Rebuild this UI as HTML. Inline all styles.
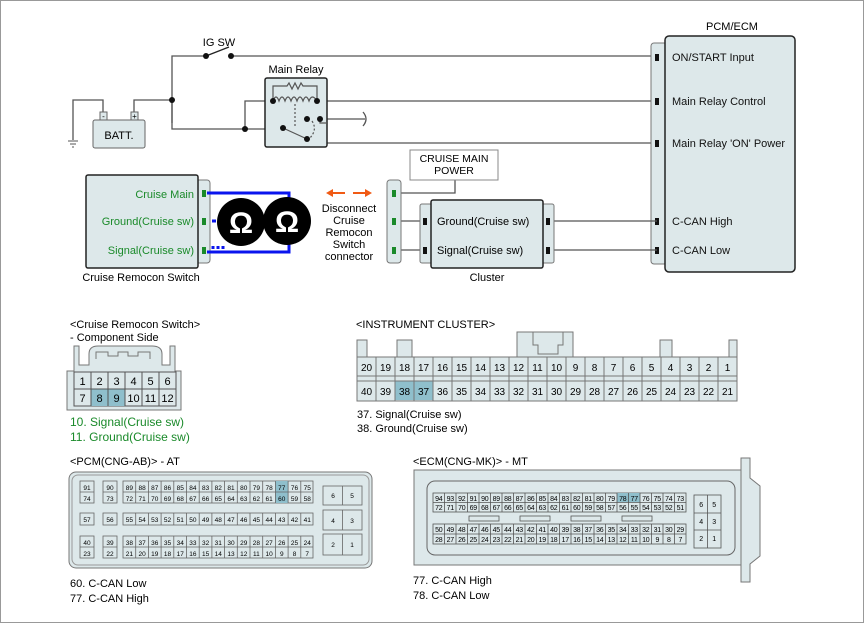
<!DOCTYPE html>
<html><head><meta charset="utf-8"><style>
html,body{margin:0;padding:0;background:#fff}
svg{display:block;font-family:"Liberation Sans",sans-serif}
</style></head><body>
<svg width="865" height="624" viewBox="0 0 865 624" xmlns="http://www.w3.org/2000/svg">
<rect x="0.5" y="0.5" width="863" height="622" fill="#fff" stroke="#999"/>
<g fill="none" stroke="#555" stroke-width="1.3">
<!-- IG SW line -->
<path d="M172 123 V56 H206 M231 56 H657"/>
<path d="M206 56 L229 47" stroke="#222"/>
<!-- battery wires -->
<path d="M73 140 V100 H103 V112"/>
<path d="M134 112 V100 H172"/>
<path d="M172 100 V129 H245"/>
<path d="M245 129 V101 H273"/>
<path d="M245 129 H283 L307 139"/>
<path d="M317 101 H657"/>
<path d="M320 119 H365"/>
<path d="M363 112 q6 7 0 14" />
<path d="M323 119 V143 H657"/>
<path d="M273 101 V86 H317 V101"/>
<path d="M295 101 V130" stroke-dasharray="2,2"/>
<path d="M312 121 q6 9 -2 18" stroke-dasharray="2,2"/>
</g>
<!-- ground symbol -->
<g stroke="#555"><line x1="68" y1="141" x2="78" y2="141"/><line x1="70" y1="144" x2="76" y2="144"/><line x1="72" y1="147" x2="74" y2="147"/></g>
<!-- battery -->
<rect x="93" y="120" width="52" height="28" rx="2" fill="#dde8ea" stroke="#666"/>
<rect x="100" y="112" width="7" height="8" fill="#dde8ea" stroke="#666"/>
<rect x="131" y="112" width="7" height="8" fill="#dde8ea" stroke="#666"/>
<text x="103.5" y="119" font-size="8" text-anchor="middle">-</text>
<text x="134.5" y="119" font-size="8" text-anchor="middle">+</text>
<text x="119" y="139" font-size="11" text-anchor="middle">BATT.</text>
<text x="219" y="46" font-size="11" text-anchor="middle">IG SW</text>
<circle cx="206" cy="56" r="3" fill="#111"/><circle cx="231" cy="56" r="3" fill="#111"/>
<circle cx="172" cy="100" r="3" fill="#111"/><circle cx="245" cy="129" r="3" fill="#111"/>
<!-- relay -->
<text x="296" y="73" font-size="11" text-anchor="middle">Main Relay</text>
<rect x="265" y="78" width="62" height="69" rx="2" fill="#dde8ea" stroke="#222" stroke-width="1.5"/>
<g fill="none" stroke="#555" stroke-width="1.2">
<path d="M273 101 V86 H287 l2 -3 l3 6 l3 -6 l3 6 l3 -6 l2 3 H317 V101"/>
<path d="M273 101 q3 -8 6 0 q3 -8 6 0 q3 -8 6 0 q3 -8 6 0 q3 -8 6 0 q3 -8 6 0 q3 -8 8 0"/>
<path d="M283 128 L307 139"/>
<path d="M320 119 V123 H327"/>
<path d="M295 104 V128" stroke-dasharray="2,2"/>
<path d="M312 121 q6 9 -3 18" stroke-dasharray="2,2"/>
</g>
<g fill="#111"><circle cx="273" cy="101" r="3"/><circle cx="317" cy="101" r="3"/><circle cx="283" cy="128" r="3"/><circle cx="307" cy="139" r="3"/><circle cx="307" cy="119" r="3"/><circle cx="320" cy="119" r="3"/></g>
<!-- PCM/ECM -->
<text x="732" y="30" font-size="11" text-anchor="middle">PCM/ECM</text>
<rect x="651" y="43" width="16" height="221" rx="3" fill="#dde8ea" stroke="#777"/>
<rect x="665" y="36" width="130" height="236" rx="4" fill="#dde8ea" stroke="#222" stroke-width="1.5"/>
<g fill="#111"><rect x="655" y="54" width="4" height="7"/><rect x="655" y="98" width="4" height="7"/><rect x="655" y="140" width="4" height="7"/><rect x="655" y="218" width="4" height="7"/><rect x="655" y="247" width="4" height="7"/></g>
<g font-size="11" fill="#111"><text x="672" y="61">ON/START Input</text><text x="672" y="105">Main Relay Control</text><text x="672" y="147">Main Relay 'ON' Power</text><text x="672" y="225">C-CAN High</text><text x="672" y="254">C-CAN Low</text></g>
<!-- cluster -->
<g stroke="#555" stroke-width="1.3" fill="none"><path d="M394 221 H425 M394 250 H425 M554 221 H657 M554 250 H657 M394 193 H455 V180"/></g>
<rect x="410" y="150" width="88" height="30" fill="#fff" stroke="#888"/>
<text x="454" y="162" font-size="10.5" text-anchor="middle">CRUISE MAIN</text>
<text x="454" y="174" font-size="10.5" text-anchor="middle">POWER</text>
<rect x="387" y="180" width="14" height="83" rx="3" fill="#dde8ea" stroke="#777"/>
<rect x="420" y="204" width="13" height="59" rx="2" fill="#dde8ea" stroke="#777"/>
<rect x="541" y="204" width="13" height="59" rx="2" fill="#dde8ea" stroke="#777"/>
<rect x="431" y="200" width="112" height="68" rx="2" fill="#dde8ea" stroke="#222" stroke-width="1.5"/>
<g fill="#1a8a2a"><rect x="392" y="190" width="4" height="7"/><rect x="392" y="218" width="4" height="7"/><rect x="392" y="247" width="4" height="7"/></g>
<g fill="#111"><rect x="423" y="218" width="4" height="7"/><rect x="423" y="247" width="4" height="7"/><rect x="546" y="218" width="4" height="7"/><rect x="546" y="247" width="4" height="7"/></g>
<text x="437" y="225" font-size="11">Ground(Cruise sw)</text>
<text x="437" y="254" font-size="11">Signal(Cruise sw)</text>
<text x="487" y="281" font-size="11" text-anchor="middle">Cluster</text>
<!-- arrows / disconnect text -->
<g fill="#f05a14" stroke="#f05a14" stroke-width="2"><line x1="332" y1="193" x2="345" y2="193"/><line x1="353" y1="193" x2="366" y2="193"/><path d="M326 193 l7 -4 v8z" stroke="none"/><path d="M372 193 l-7 -4 v8z" stroke="none"/></g>
<g font-size="11" text-anchor="middle"><text x="349" y="212">Disconnect</text><text x="349" y="224">Cruise</text><text x="349" y="236">Remocon</text><text x="349" y="248">Switch</text><text x="349" y="260">connector</text></g>
<!-- cruise remocon switch -->
<rect x="196" y="180" width="14" height="83" rx="3" fill="#dde8ea" stroke="#777"/>
<rect x="86" y="175" width="112" height="93" rx="2" fill="#dde8ea" stroke="#222" stroke-width="1.5"/>
<g fill="#1a8a2a"><rect x="202" y="190" width="4" height="7"/><rect x="202" y="218" width="4" height="7"/><rect x="202" y="247" width="4" height="7"/></g>
<g font-size="11" fill="#1a8a2a" text-anchor="end"><text x="194" y="198">Cruise Main</text><text x="194" y="225">Ground(Cruise sw)</text><text x="194" y="254">Signal(Cruise sw)</text></g>
<text x="141" y="281" font-size="11" text-anchor="middle">Cruise Remocon Switch</text>
<g stroke="#0a14ee" stroke-width="3" fill="none"><path d="M207 193 H289 V252 H207"/><path d="M212 221 H216"/><path d="M213 249 V246 M218 249 V246 M223 249 V246"/></g>
<circle cx="241" cy="222" r="24" fill="#000"/><circle cx="287" cy="221" r="24" fill="#000"/>
<g fill="#fff" font-size="30" font-weight="bold" text-anchor="middle"><text x="241" y="233">Ω</text><text x="287" y="232">Ω</text></g>
<!-- Cruise remocon connector -->
<g font-size="11"><text x="70" y="328">&lt;Cruise Remocon Switch&gt;</text><text x="70" y="341">- Component Side</text></g>
<path d="M67 410 V371 H74 V346 H79 V365 H89 V354 Q89 346 98 346 H152 Q162 346 162 354 V365 H170 V346 H175 V371 H181 V410 Z" fill="#dde8ea" stroke="#777"/>
<path d="M96 359 V352 H108 V356 H118 V352 H128 V356 H138 V352 H150 V359" fill="none" stroke="#777"/>
<rect x="74" y="372" width="102" height="34" fill="#dde8ea" stroke="#555"/>
<rect x="91" y="389" width="34" height="17" fill="#8fbfcc"/>
<g stroke="#555" fill="none"><path d="M74 389 H176 M91 372 V406 M108 372 V406 M125 372 V406 M142 372 V406 M159 372 V406"/></g>
<g font-size="11" text-anchor="middle"><text x="82.5" y="385">1</text><text x="99.5" y="385">2</text><text x="116.5" y="385">3</text><text x="133.5" y="385">4</text><text x="150.5" y="385">5</text><text x="167.5" y="385">6</text><text x="82.5" y="402">7</text><text x="99.5" y="402">8</text><text x="116.5" y="402">9</text><text x="133.5" y="402">10</text><text x="150.5" y="402">11</text><text x="167.5" y="402">12</text></g>
<g font-size="12" fill="#1a8a2a"><text x="70" y="426">10. Signal(Cruise sw)</text><text x="70" y="441">11. Ground(Cruise sw)</text></g>
<!-- Instrument cluster -->
<text x="356" y="328" font-size="11">&lt;INSTRUMENT CLUSTER&gt;</text>
<g fill="#dde8ea" stroke="#777"><rect x="357" y="340" width="10" height="19"/><rect x="397" y="340" width="15" height="19"/><rect x="517" y="332" width="56" height="27"/><rect x="660" y="340" width="12" height="19"/><rect x="729" y="340" width="8" height="19"/></g>
<path d="M533 332 V345 H538 V354 H558 V345 H563 V332" fill="none" stroke="#777"/>
<rect x="357" y="357" width="380" height="44" fill="#dde8ea" stroke="#777"/>
<rect x="395" y="381" width="38" height="19" fill="#8fbfcc"/>
<g stroke="#777" fill="none"><path d="M357 376 H737 M357 381 H737 M376 357 V401 M395 357 V401 M414 357 V401 M433 357 V401 M452 357 V401 M471 357 V401 M490 357 V401 M509 357 V401 M528 357 V401 M547 357 V401 M566 357 V401 M585 357 V401 M604 357 V401 M623 357 V401 M642 357 V401 M661 357 V401 M680 357 V401 M699 357 V401 M718 357 V401"/></g>
<g font-size="10" text-anchor="middle">
<text x="366.5" y="371">20</text><text x="385.5" y="371">19</text><text x="404.5" y="371">18</text><text x="423.5" y="371">17</text><text x="442.5" y="371">16</text><text x="461.5" y="371">15</text><text x="480.5" y="371">14</text><text x="499.5" y="371">13</text><text x="518.5" y="371">12</text><text x="537.5" y="371">11</text><text x="556.5" y="371">10</text><text x="575.5" y="371">9</text><text x="594.5" y="371">8</text><text x="613.5" y="371">7</text><text x="632.5" y="371">6</text><text x="651.5" y="371">5</text><text x="670.5" y="371">4</text><text x="689.5" y="371">3</text><text x="708.5" y="371">2</text><text x="727.5" y="371">1</text>
<text x="366.5" y="395">40</text><text x="385.5" y="395">39</text><text x="404.5" y="395">38</text><text x="423.5" y="395">37</text><text x="442.5" y="395">36</text><text x="461.5" y="395">35</text><text x="480.5" y="395">34</text><text x="499.5" y="395">33</text><text x="518.5" y="395">32</text><text x="537.5" y="395">31</text><text x="556.5" y="395">30</text><text x="575.5" y="395">29</text><text x="594.5" y="395">28</text><text x="613.5" y="395">27</text><text x="632.5" y="395">26</text><text x="651.5" y="395">25</text><text x="670.5" y="395">24</text><text x="689.5" y="395">23</text><text x="708.5" y="395">22</text><text x="727.5" y="395">21</text>
</g>
<g font-size="11"><text x="357" y="418">37. Signal(Cruise sw)</text><text x="357" y="432">38. Ground(Cruise sw)</text></g>
<!-- PCM AT -->
<text x="70" y="465" font-size="11">&lt;PCM(CNG-AB)&gt; - AT</text>
<rect x="69" y="472" width="303" height="96" rx="7" fill="#dde8ea" stroke="#777"/>
<rect x="72" y="475" width="297" height="90" rx="6" fill="none" stroke="#999"/>
<g fill="#dde8ea" stroke="#666" stroke-width="0.8">
<rect x="80" y="481" width="14" height="22"/><rect x="103" y="481" width="14" height="22"/><rect x="123" y="481" width="190" height="22"/>
<rect x="80" y="513" width="14" height="12"/><rect x="103" y="513" width="14" height="12"/><rect x="123" y="513" width="190" height="12"/>
<rect x="80" y="536" width="14" height="22"/><rect x="103" y="536" width="14" height="22"/><rect x="123" y="536" width="190" height="22"/>
<rect x="323" y="486" width="39" height="19"/><rect x="323" y="510" width="39" height="20"/><rect x="323" y="534" width="39" height="21"/>
</g>
<rect x="275.4" y="481" width="12.7" height="22" fill="#8fbfcc"/>
<g stroke="#666" stroke-width="0.8" fill="none"><path d="M80 492 H94 M103 492 H117 M123 492 H313 M80 547 H94 M103 547 H117 M123 547 H313 M342.5 486 V505 M342.5 510 V530 M342.5 534 V555
M135.7 481 V503 M148.4 481 V503 M161.1 481 V503 M173.8 481 V503 M186.5 481 V503 M199.2 481 V503 M211.9 481 V503 M224.6 481 V503 M237.3 481 V503 M250 481 V503 M262.7 481 V503 M275.4 481 V503 M288.1 481 V503 M300.8 481 V503
M135.7 513 V525 M148.4 513 V525 M161.1 513 V525 M173.8 513 V525 M186.5 513 V525 M199.2 513 V525 M211.9 513 V525 M224.6 513 V525 M237.3 513 V525 M250 513 V525 M262.7 513 V525 M275.4 513 V525 M288.1 513 V525 M300.8 513 V525
M135.7 536 V558 M148.4 536 V558 M161.1 536 V558 M173.8 536 V558 M186.5 536 V558 M199.2 536 V558 M211.9 536 V558 M224.6 536 V558 M237.3 536 V558 M250 536 V558 M262.7 536 V558 M275.4 536 V558 M288.1 536 V558 M300.8 536 V558"/></g>
<g font-size="6.5" text-anchor="middle">
<text x="87" y="490">91</text><text x="110" y="490">90</text><text x="129.4" y="490">89</text><text x="142.1" y="490">88</text><text x="154.8" y="490">87</text><text x="167.5" y="490">86</text><text x="180.2" y="490">85</text><text x="192.9" y="490">84</text><text x="205.6" y="490">83</text><text x="218.3" y="490">82</text><text x="231" y="490">81</text><text x="243.7" y="490">80</text><text x="256.4" y="490">79</text><text x="269.1" y="490">78</text><text x="281.8" y="490">77</text><text x="294.5" y="490">76</text><text x="307.2" y="490">75</text>
<text x="87" y="501">74</text><text x="110" y="501">73</text><text x="129.4" y="501">72</text><text x="142.1" y="501">71</text><text x="154.8" y="501">70</text><text x="167.5" y="501">69</text><text x="180.2" y="501">68</text><text x="192.9" y="501">67</text><text x="205.6" y="501">66</text><text x="218.3" y="501">65</text><text x="231" y="501">64</text><text x="243.7" y="501">63</text><text x="256.4" y="501">62</text><text x="269.1" y="501">61</text><text x="281.8" y="501">60</text><text x="294.5" y="501">59</text><text x="307.2" y="501">58</text>
<text x="87" y="522">57</text><text x="110" y="522">56</text><text x="129.4" y="522">55</text><text x="142.1" y="522">54</text><text x="154.8" y="522">53</text><text x="167.5" y="522">52</text><text x="180.2" y="522">51</text><text x="192.9" y="522">50</text><text x="205.6" y="522">49</text><text x="218.3" y="522">48</text><text x="231" y="522">47</text><text x="243.7" y="522">46</text><text x="256.4" y="522">45</text><text x="269.1" y="522">44</text><text x="281.8" y="522">43</text><text x="294.5" y="522">42</text><text x="307.2" y="522">41</text>
<text x="87" y="545">40</text><text x="110" y="545">39</text><text x="129.4" y="545">38</text><text x="142.1" y="545">37</text><text x="154.8" y="545">36</text><text x="167.5" y="545">35</text><text x="180.2" y="545">34</text><text x="192.9" y="545">33</text><text x="205.6" y="545">32</text><text x="218.3" y="545">31</text><text x="231" y="545">30</text><text x="243.7" y="545">29</text><text x="256.4" y="545">28</text><text x="269.1" y="545">27</text><text x="281.8" y="545">26</text><text x="294.5" y="545">25</text><text x="307.2" y="545">24</text>
<text x="87" y="556">23</text><text x="110" y="556">22</text><text x="129.4" y="556">21</text><text x="142.1" y="556">20</text><text x="154.8" y="556">19</text><text x="167.5" y="556">18</text><text x="180.2" y="556">17</text><text x="192.9" y="556">16</text><text x="205.6" y="556">15</text><text x="218.3" y="556">14</text><text x="231" y="556">13</text><text x="243.7" y="556">12</text><text x="256.4" y="556">11</text><text x="269.1" y="556">10</text><text x="281.8" y="556">9</text><text x="294.5" y="556">8</text><text x="307.2" y="556">7</text>
<text x="333" y="498">6</text><text x="352" y="498">5</text><text x="333" y="523">4</text><text x="352" y="523">3</text><text x="333" y="547">2</text><text x="352" y="547">1</text>
</g>
<g font-size="11"><text x="70" y="587">60. C-CAN Low</text><text x="70" y="602">77. C-CAN High</text></g>
<!-- ECM MT -->
<text x="413" y="465" font-size="11">&lt;ECM(CNG-MK)&gt; - MT</text>
<path d="M741 458 H750 V478 L760 486 V556 L750 564 V582 H741 Z" fill="#dde8ea" stroke="#777"/>
<rect x="414" y="470" width="327" height="95" fill="#dde8ea" stroke="#777"/>
<rect x="427" y="481" width="308" height="74" rx="8" fill="none" stroke="#666"/>
<rect x="433" y="493" width="253" height="19" fill="#dde8ea" stroke="#555" stroke-width="0.8"/>
<rect x="433" y="524" width="253" height="20" fill="#dde8ea" stroke="#555" stroke-width="0.8"/>
<rect x="617" y="493" width="23" height="9" fill="#8fbfcc"/>
<g fill="none" stroke="#555" stroke-width="0.8"><rect x="469" y="516" width="30" height="5"/><rect x="520" y="516" width="30" height="5"/><rect x="571" y="516" width="30" height="5"/><rect x="622" y="516" width="30" height="5"/>
<rect x="694" y="495" width="27" height="53"/><path d="M707.5 495 V548 M694 513 H721 M694 530 H721 M433 502.5 H686 M433 534 H686
M444.5 493 V512 M456 493 V512 M467.5 493 V512 M479 493 V512 M490.5 493 V512 M502 493 V512 M513.5 493 V512 M525 493 V512 M536.5 493 V512 M548 493 V512 M559.5 493 V512 M571 493 V512 M582.5 493 V512 M594 493 V512 M605.5 493 V512 M617 493 V512 M628.5 493 V512 M640 493 V512 M651.5 493 V512 M663 493 V512 M674.5 493 V512
M444.5 524 V544 M456 524 V544 M467.5 524 V544 M479 524 V544 M490.5 524 V544 M502 524 V544 M513.5 524 V544 M525 524 V544 M536.5 524 V544 M548 524 V544 M559.5 524 V544 M571 524 V544 M582.5 524 V544 M594 524 V544 M605.5 524 V544 M617 524 V544 M628.5 524 V544 M640 524 V544 M651.5 524 V544 M663 524 V544 M674.5 524 V544"/></g>
<g font-size="7" text-anchor="middle" letter-spacing="-0.3">
<text x="438.75" y="501">94</text><text x="450.25" y="501">93</text><text x="461.75" y="501">92</text><text x="473.25" y="501">91</text><text x="484.75" y="501">90</text><text x="496.25" y="501">89</text><text x="507.75" y="501">88</text><text x="519.25" y="501">87</text><text x="530.75" y="501">86</text><text x="542.25" y="501">85</text><text x="553.75" y="501">84</text><text x="565.25" y="501">83</text><text x="576.75" y="501">82</text><text x="588.25" y="501">81</text><text x="599.75" y="501">80</text><text x="611.25" y="501">79</text><text x="622.75" y="501">78</text><text x="634.25" y="501">77</text><text x="645.75" y="501">76</text><text x="657.25" y="501">75</text><text x="668.75" y="501">74</text><text x="680.25" y="501">73</text>
<text x="438.75" y="510">72</text><text x="450.25" y="510">71</text><text x="461.75" y="510">70</text><text x="473.25" y="510">69</text><text x="484.75" y="510">68</text><text x="496.25" y="510">67</text><text x="507.75" y="510">66</text><text x="519.25" y="510">65</text><text x="530.75" y="510">64</text><text x="542.25" y="510">63</text><text x="553.75" y="510">62</text><text x="565.25" y="510">61</text><text x="576.75" y="510">60</text><text x="588.25" y="510">59</text><text x="599.75" y="510">58</text><text x="611.25" y="510">57</text><text x="622.75" y="510">56</text><text x="634.25" y="510">55</text><text x="645.75" y="510">54</text><text x="657.25" y="510">53</text><text x="668.75" y="510">52</text><text x="680.25" y="510">51</text>
<text x="438.75" y="532">50</text><text x="450.25" y="532">49</text><text x="461.75" y="532">48</text><text x="473.25" y="532">47</text><text x="484.75" y="532">46</text><text x="496.25" y="532">45</text><text x="507.75" y="532">44</text><text x="519.25" y="532">43</text><text x="530.75" y="532">42</text><text x="542.25" y="532">41</text><text x="553.75" y="532">40</text><text x="565.25" y="532">39</text><text x="576.75" y="532">38</text><text x="588.25" y="532">37</text><text x="599.75" y="532">36</text><text x="611.25" y="532">35</text><text x="622.75" y="532">34</text><text x="634.25" y="532">33</text><text x="645.75" y="532">32</text><text x="657.25" y="532">31</text><text x="668.75" y="532">30</text><text x="680.25" y="532">29</text>
<text x="438.75" y="542">28</text><text x="450.25" y="542">27</text><text x="461.75" y="542">26</text><text x="473.25" y="542">25</text><text x="484.75" y="542">24</text><text x="496.25" y="542">23</text><text x="507.75" y="542">22</text><text x="519.25" y="542">21</text><text x="530.75" y="542">20</text><text x="542.25" y="542">19</text><text x="553.75" y="542">18</text><text x="565.25" y="542">17</text><text x="576.75" y="542">16</text><text x="588.25" y="542">15</text><text x="599.75" y="542">14</text><text x="611.25" y="542">13</text><text x="622.75" y="542">12</text><text x="634.25" y="542">11</text><text x="645.75" y="542">10</text><text x="657.25" y="542">9</text><text x="668.75" y="542">8</text><text x="680.25" y="542">7</text>
<text x="701" y="507">6</text><text x="714" y="507">5</text><text x="701" y="524">4</text><text x="714" y="524">3</text><text x="701" y="541">2</text><text x="714" y="541">1</text>
</g>
<g font-size="11"><text x="413" y="584">77. C-CAN High</text><text x="413" y="599">78. C-CAN Low</text></g>
</svg>
</body></html>
